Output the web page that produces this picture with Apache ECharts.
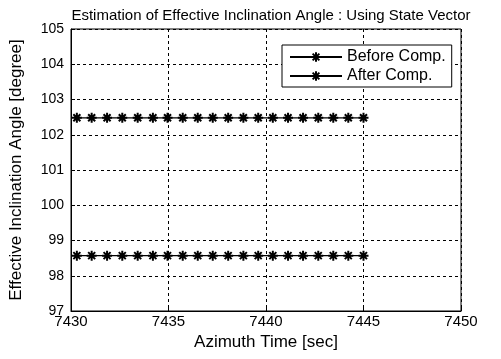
<!DOCTYPE html>
<html>
<head>
<meta charset="utf-8">
<script src="https://cdn.jsdelivr.net/npm/echarts@6/dist/echarts.min.js"></script>
<style>
  html, body { margin: 0; padding: 0; background: #fff; }
  #chart { width: 501px; height: 359px; }
</style>
</head>
<body>
<div id="chart"></div>
<script>
// azimuth time of each sample [sec]
var times = [7430.3, 7431.06, 7431.85, 7432.63, 7433.42, 7434.2, 7434.95, 7435.73, 7436.5, 7437.27,
  7438.06, 7438.84, 7439.6, 7440.35, 7441.13, 7441.9, 7442.68, 7443.45, 7444.22, 7445.0];
// effective inclination angle [degree]
var beforeComp = [102.48, 102.48, 102.48, 102.48, 102.48, 102.48, 102.48, 102.48, 102.48, 102.48,
  102.48, 102.48, 102.48, 102.48, 102.48, 102.48, 102.48, 102.48, 102.48, 102.48];
var afterComp = [98.57, 98.57, 98.57, 98.57, 98.57, 98.57, 98.57, 98.57, 98.57, 98.57,
  98.57, 98.57, 98.57, 98.57, 98.57, 98.57, 98.57, 98.57, 98.57, 98.57];
var seriesNames = ['Before Comp.', 'After Comp.'];

function pairs (ys) {
  var out = [];
  for (var i = 0; i < times.length; i++) {
    out.push([times[i], ys[i]]);
  }
  return out;
}

var myChart = echarts.init(document.getElementById('chart'));

// matlab style asterisk marker
var star = 'path://M0,-1L0,1M-1,0L1,0M-0.7,-0.7L0.7,0.7M-0.7,0.7L0.7,-0.7';
var font = 'Liberation Sans';

var option = {
  animation: false,
  title: {
    text: 'Estimation of Effective Inclination Angle : Using State Vector',
    left: 266,
    textAlign: 'center',
    top: 3,
    textStyle: { fontFamily: font, fontSize: 15, fontWeight: 'normal', color: '#000' }
  },
  legend: {
    data: seriesNames,
    orient: 'vertical',
    left: 282,
    top: 45,
    backgroundColor: '#fff',
    borderColor: '#000',
    borderWidth: 1,
    borderRadius: 0,
    padding: [4, 6, 3, 7],
    itemWidth: 52,
    itemHeight: 12,
    itemGap: 3,
    textStyle: { fontFamily: font, fontSize: 16, color: '#000' }
  },
  grid: {
    left: 71,
    right: 40,
    top: 29,
    bottom: 48,
    outerBoundsMode: 'none',
    containLabel: false,
    show: true,
    borderColor: '#000',
    borderWidth: 1,
    z: 5
  },
  xAxis: {
    type: 'value',
    min: 7430,
    max: 7450,
    interval: 5,
    name: 'Azimuth Time [sec]',
    nameLocation: 'middle',
    nameGap: 21,
    nameTextStyle: { fontFamily: font, fontSize: 17, color: '#000' },
    axisLine: { lineStyle: { color: '#000' } },
    axisTick: { inside: true, length: 4, lineStyle: { color: '#000' } },
    axisLabel: {
      fontFamily: font, fontSize: 15, color: '#000', margin: 3,
      formatter: function (v) { return String(v); }
    },
    splitLine: { lineStyle: { color: '#000', type: [3, 3], width: 1 } }
  },
  yAxis: {
    type: 'value',
    min: 97,
    max: 105,
    interval: 1,
    name: 'Effective Inclination Angle [degree]',
    nameLocation: 'middle',
    nameGap: 46,
    nameTextStyle: { fontFamily: font, fontSize: 17, color: '#000' },
    axisLine: { lineStyle: { color: '#000' } },
    axisTick: { inside: true, length: 4, lineStyle: { color: '#000' } },
    axisLabel: { fontFamily: font, fontSize: 14, color: '#000', margin: 7 },
    splitLine: { lineStyle: { color: '#000', type: [3, 3], width: 1 } }
  },
  series: [{
    name: seriesNames[0],
    type: 'line',
    data: pairs(beforeComp),
    symbol: star,
    symbolSize: 10,
    lineStyle: { color: '#000', width: 1.4 },
    itemStyle: { color: '#000', borderColor: '#000', borderWidth: 2 }
  }, {
    name: seriesNames[1],
    type: 'line',
    data: pairs(afterComp),
    symbol: star,
    symbolSize: 10,
    lineStyle: { color: '#000', width: 1.4 },
    itemStyle: { color: '#000', borderColor: '#000', borderWidth: 2 }
  }]
};

myChart.setOption(option);
window.addEventListener('resize', function () {
  myChart.resize();
});
</script>
</body>
</html>
